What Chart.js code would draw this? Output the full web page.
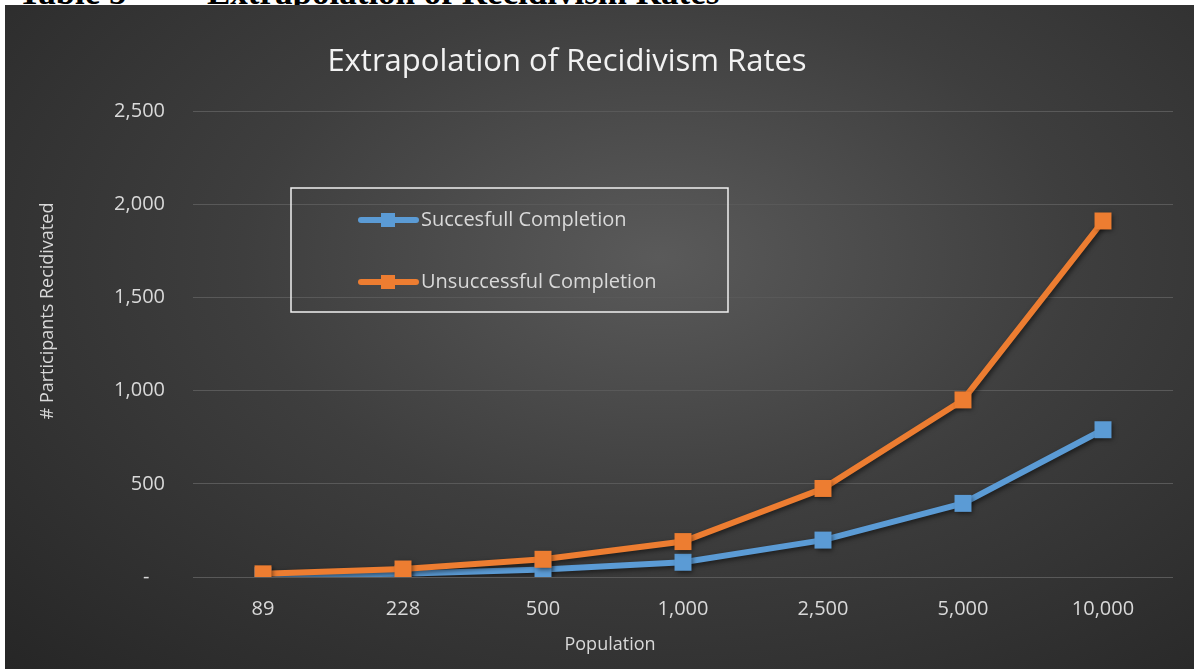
<!DOCTYPE html>
<html lang="en">
<head>
<meta charset="UTF-8">
<title>Extrapolation of Recidivism Rates</title>
<style>
  body {
    margin: 0;
    background: #fff;
    width: 1194px;
    height: 669px;
    overflow: hidden;
    position: relative;
  }
  /* the document caption above the chart, mostly hidden behind it */
  .caption {
    position: absolute;
    left: 0;
    top: 0;
    width: 1194px;
    height: 5px;
    overflow: hidden;
    font-family: "Liberation Serif", "Times New Roman", serif;
    font-weight: bold;
    font-size: 35px;
    color: #000;
  }
  .caption span {
    position: absolute;
    top: -25px;
    line-height: 35px;
    white-space: nowrap;
  }
  .chart-box {
    position: absolute;
    left: 5px;
    top: 5px;
    width: 1189px;
    height: 664px;
    background: radial-gradient(ellipse farthest-corner at 55% 38%, #5a5a5a 0%, #3e3e3e 45%, #262626 100%);
  }
</style>
</head>
<body>
  <div class="caption">
    <span style="left:18px">Table 5</span>
    <span style="left:207px">Extrapolation of Recidivism Rates</span>
  </div>
  <div class="chart-box">
    <canvas id="recidivismChart"></canvas>
  </div>

<script src="https://cdn.jsdelivr.net/npm/chart.js"></script>
<script>
  // data
  var populations = ['89', '228', '500', '1,000', '2,500', '5,000', '10,000'];
  var successful = [7, 18, 40, 79, 198, 395, 790];
  var unsuccessful = [17, 43, 95, 190, 475, 950, 1910];
  var seriesNames = ['Succesfull Completion', 'Unsuccessful Completion'];
  var yTickValues = [0, 500, 1000, 1500, 2000, 2500];

  var chartTitle = 'Extrapolation of Recidivism Rates';
  var xTitle = 'Population';
  var yTitle = '# Participants Recidivated';

  var FONT = '"Open Sans", "Segoe UI", sans-serif';
  var TEXT = '#d9d9d9';

  // soft drop shadow under the lines, like the office chart
  var shadowPlugin = {
    id: 'lineShadow',
    beforeDatasetsDraw: function (chart) {
      var ctx = chart.ctx;
      ctx.save();
      ctx.shadowColor = 'rgba(0, 0, 0, 0.55)';
      ctx.shadowBlur = 5;
      ctx.shadowOffsetX = 2;
      ctx.shadowOffsetY = 2;
    },
    afterDatasetsDraw: function (chart) {
      chart.ctx.restore();
    }
  };

  // title, axis titles and the boxed legend sit where Excel put them
  var decorPlugin = {
    id: 'decor',
    afterDraw: function (chart) {
      var ctx = chart.ctx;
      ctx.save();

      ctx.fillStyle = '#f2f2f2';
      ctx.font = '31px ' + FONT;
      ctx.textAlign = 'center';
      ctx.textBaseline = 'middle';
      ctx.fillText(chartTitle, 562, 57);

      ctx.fillStyle = TEXT;
      ctx.font = '18px ' + FONT;
      ctx.fillText(xTitle, 605, 640);

      ctx.save();
      ctx.translate(43, 306);
      ctx.rotate(-Math.PI / 2);
      ctx.fillText(yTitle, 0, 0);
      ctx.restore();

      // legend box
      ctx.strokeStyle = '#f0f0f0';
      ctx.lineWidth = 1.5;
      ctx.strokeRect(286, 183, 437, 124);

      var rows = [215, 277];
      chart.data.datasets.forEach(function (ds, i) {
        var y = rows[i];
        ctx.strokeStyle = ds.borderColor;
        ctx.lineWidth = 6;
        ctx.lineCap = 'round';
        ctx.beginPath();
        ctx.moveTo(356, y);
        ctx.lineTo(411, y);
        ctx.stroke();
        ctx.fillStyle = ds.backgroundColor;
        ctx.fillRect(383 - 7, y - 7, 14, 14);
        ctx.fillStyle = TEXT;
        ctx.font = '20px ' + FONT;
        ctx.textAlign = 'left';
        ctx.fillText(ds.label, 416, y);
      });

      ctx.restore();
    }
  };

  var ctx = document.getElementById('recidivismChart').getContext('2d');

  var recidivismChart = new Chart(ctx, {
    type: 'line',
    data: {
      labels: populations,
      datasets: [
        {
          label: seriesNames[0],
          data: successful,
          borderColor: '#5b9bd5',
          backgroundColor: '#5b9bd5',
          borderWidth: 6,
          pointStyle: 'rect',
          pointRadius: 12,
          pointBorderWidth: 0,
          tension: 0,
          order: 1
        },
        {
          label: seriesNames[1],
          data: unsuccessful,
          borderColor: '#ed7d31',
          backgroundColor: '#ed7d31',
          borderWidth: 6,
          pointStyle: 'rect',
          pointRadius: 12,
          pointBorderWidth: 0,
          tension: 0,
          order: 0
        }
      ]
    },
    options: {
      responsive: true,
      maintainAspectRatio: false,
      animation: false,
      layout: {
        padding: { top: 106, right: 21, bottom: 28, left: 0 }
      },
      scales: {
        x: {
          offset: true,
          grid: { display: false, drawTicks: false },
          border: { display: false },
          ticks: {
            color: TEXT,
            padding: 20,
            font: { family: FONT, size: 20 }
          }
        },
        y: {
          min: 0,
          max: 2500,
          afterFit: function (scale) { scale.width = 188; },
          afterBuildTicks: function (scale) {
            scale.ticks = yTickValues.map(function (v) { return { value: v }; });
          },
          grid: { color: '#595959', lineWidth: 1, drawTicks: false },
          border: { display: false },
          ticks: {
            color: TEXT,
            padding: 28,
            font: { family: FONT, size: 20 },
            callback: function (value) {
              return value === 0 ? '-   ' : value.toLocaleString('en-US');
            }
          }
        }
      },
      plugins: {
        legend: { display: false },
        title: { display: false },
        tooltip: { enabled: false }
      }
    },
    plugins: [shadowPlugin, decorPlugin]
  });
</script>
</body>
</html>
